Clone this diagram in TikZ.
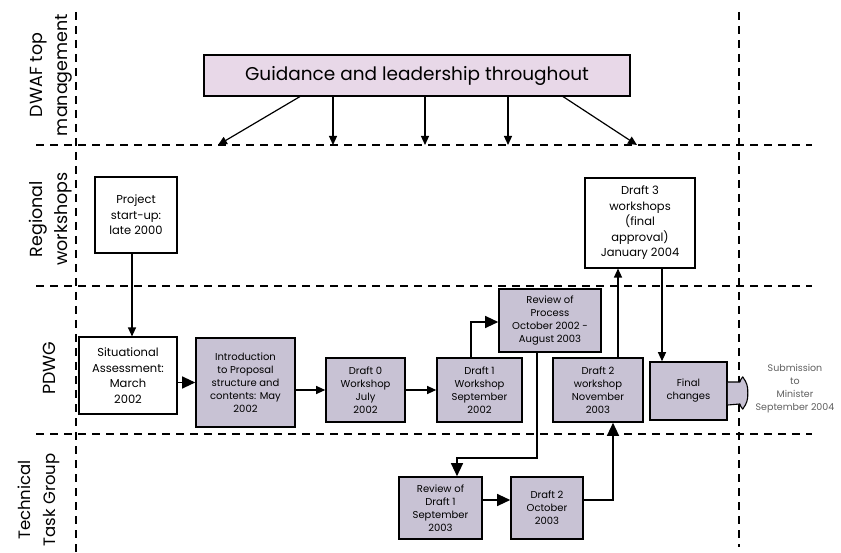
\documentclass[tikz,border=0pt]{standalone}
\usepackage{fontspec}
\setmainfont{Poppins}
\usetikzlibrary{arrows.meta}
\definecolor{boxfill}{RGB}{200,194,212}
\definecolor{guidefill}{RGB}{232,216,232}
\definecolor{subtext}{RGB}{95,95,95}
\tikzset{
  lane/.style={line width=1.3pt, dash pattern=on 8pt off 6pt},
  whitebox/.style={draw, line width=1.1pt, fill=white, align=center, inner sep=0pt,
    font=\fontsize{11.5}{15.5}\selectfont},
  greybox/.style={draw, line width=1.6pt, fill=boxfill, align=center, inner sep=0pt,
    font=\fontsize{10}{13}\selectfont},
  lanelabel/.style={rotate=90, align=center, font=\fontsize{17.5}{25}\selectfont},
  arr/.style={line width=1.2pt, -{Triangle[length=9pt,width=8pt]}},
  bigarr/.style={line width=1.2pt, -{Triangle[length=13pt,width=12pt]}}
}
\begin{document}
\begin{tikzpicture}[x=1pt,y=-1pt]
\useasboundingbox (0,0) rectangle (841,553);

% swimlane separators
\draw[lane] (76,12) -- (76,553);
\draw[lane] (739,12) -- (739,547);
\draw[lane] (36,145) -- (812,145);
\draw[lane] (36,286) -- (812,286);
\draw[lane] (36,434) -- (812,434);

% lane titles
\node[lanelabel] (l1) at (51,75) {DWAF top\\management};
\node[lanelabel] (l2) at (51,219) {Regional\\workshops};
\node[lanelabel] (l3) at (49,368) {PDWG};
\node[lanelabel, font=\fontsize{16.5}{25}\selectfont] (l4) at (39,500) {Technical\\Task Group};

% top management
\node[draw, line width=1.1pt, fill=guidefill, minimum width=426pt, minimum height=41pt,
  inner sep=0pt, font=\fontsize{18.5}{20}\selectfont] (guide) at (417,75.5)
  {Guidance and leadership throughout};
\coordinate (g1) at (218,145);
\coordinate (g2) at (333,145);
\coordinate (g3) at (425,145);
\coordinate (g4) at (508,145);
\coordinate (g5) at (637,145);
\draw[arr] ([xshift=-117pt]guide.south) -- (g1);
\draw[arr] ([xshift=-84pt]guide.south) -- (g2);
\draw[arr] ([xshift=8pt]guide.south) -- (g3);
\draw[arr] ([xshift=91pt]guide.south) -- (g4);
\draw[arr] ([xshift=146pt]guide.south) -- (g5);

% regional workshops
\node[whitebox, minimum width=82pt, minimum height=76pt] (proj) at (136,215)
  {Project\\start-up:\\late 2000};
\node[whitebox, minimum width=110pt, minimum height=90pt] (d3) at (640,223)
  {Draft 3\\workshops\\(final\\approval)\\January 2004};

% PDWG
\node[whitebox, minimum width=98pt, minimum height=77pt] (sit) at (128,375.5)
  {Situational\\Assessment:\\March\\2002};
\node[greybox, minimum width=99pt, minimum height=89pt] (intro) at (245.5,382.5)
  {Introduction\\to Proposal\\structure and\\contents: May\\2002};
\node[greybox, minimum width=79pt, minimum height=64pt] (d0) at (365.5,390)
  {Draft 0\\Workshop\\July\\2002};
\node[greybox, minimum width=85pt, minimum height=64pt] (d1) at (479.5,390)
  {Draft 1\\Workshop\\September\\2002};
\node[greybox, minimum width=102pt, minimum height=63pt] (rev) at (550,320.5)
  {Review of\\Process\\October 2002 -\\August 2003};
\node[greybox, minimum width=90pt, minimum height=64pt] (d2w) at (598,390)
  {Draft 2\\workshop\\November\\2003};
\node[greybox, minimum width=77pt, minimum height=58pt] (fin) at (688.5,391)
  {Final\\changes};
\node[align=center, text=subtext, inner sep=0pt, font=\fontsize{9.5}{13}\selectfont]
  (sub) at (795,389) {Submission\\to\\Minister\\September 2004};

% technical task group
\node[greybox, minimum width=83pt, minimum height=62pt] (rd1) at (440.5,508)
  {Review of\\Draft 1\\September\\2003};
\node[greybox, minimum width=72pt, minimum height=62pt] (d2o) at (547,508)
  {Draft 2\\October\\2003};

% flow
\draw[arr] ([xshift=-4pt]proj.south) -- ([xshift=-4pt]proj.south |- sit.north);
\draw[bigarr] (sit.east |- intro.west) -- (intro.west);
\draw[arr] (intro.east |- d0.west) -- (d0.west);
\draw[arr] (d0.east) -- (d1.west);
\draw[bigarr] ([xshift=-8.5pt]d1.north) |- ([yshift=-1.5pt]rev.west);
\coordinate (bend) at (457,458);
\draw[bigarr] ([xshift=-13pt]rev.south) |- (bend) -- ([xshift=16.5pt]rd1.north);
\draw[bigarr] ([yshift=8pt]rd1.east) -- ([yshift=8pt]d2o.west);
\draw[bigarr] ([yshift=8pt]d2o.east) -| ([xshift=15pt]d2w.south);
\draw[arr] ([xshift=20pt]d2w.north) -- ([xshift=20pt]d2w.north |- d3.south);
\draw[arr] ([xshift=22pt]d3.south) -- ([xshift=22pt]d3.south |- fin.north);

% block arrow leaving the final changes box
\draw[line width=1.1pt, fill=boxfill]
  ([yshift=9pt]fin.east) -- ++(12,0) .. controls ++(1,-2) and ++(-1,0) .. ++(3,-5)
  .. controls ++(4,6) and ++(0,-8) .. ++(5,16)
  .. controls ++(0,8) and ++(4,-6) .. ++(-5,16)
  .. controls ++(-1,0) and ++(1,2) .. ++(-3,-5) -- ([yshift=-14pt]fin.east);
\end{tikzpicture}
\end{document}
